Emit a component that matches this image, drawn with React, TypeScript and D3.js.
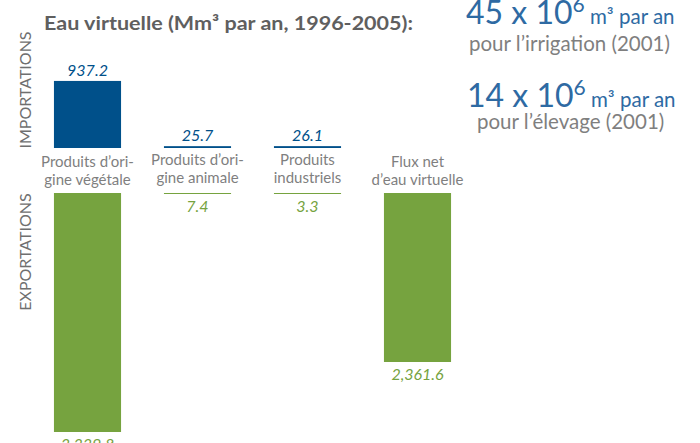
import * as d3 from "d3";
import { useEffect, useRef } from "react";

const categories = ["vegetal", "animal", "industriel", "net"];
const labelLines = [
    ["Produits d’ori-", "gine végétale"],
    ["Produits d’ori-", "gine animale"],
    ["Produits", "industriels"],
    ["Flux net", "d’eau virtuelle"],
];
const imports = [937.2, 25.7, 26.1, null];
const exports = [3339.8, 7.4, 3.3, 2361.6];

const BLUE = "#00508a";
const GREEN = "#76a33f";
const GRAY = "#7f7f7f";
const FONT = "Lato, 'Open Sans', sans-serif";

const App = () => {
    const chartRef = useRef(null);

    useEffect(() => {
        const svg = d3.select(chartRef.current);
        svg.selectAll("*").remove();

        const importBase = 148;
        const exportBase = 193;

        const scaleX = d3.scaleBand()
            .domain(categories)
            .range([32.5, 472.5])
            .paddingInner(0.39)
            .paddingOuter(0.195);

        // une seule échelle pour les deux sens
        const scaleH = d3.scaleLinear().domain([0, 3339.8]).range([0, 239]);
        const fmt = d3.format(",.1f");
        const band = scaleX.bandwidth();

        // titre
        svg.append("text")
            .attr("x", 44).attr("y", 30)
            .attr("font-family", FONT).attr("font-weight", "bold")
            .attr("font-size", 19.5).attr("fill", "#5f5f5f")
            .attr("textLength", 369).attr("lengthAdjust", "spacingAndGlyphs")
            .text("Eau virtuelle (Mm³ par an, 1996-2005):");

        // textes verticaux
        const vLabel = (txt, cy) => {
            svg.append("text")
                .attr("transform", `translate(31, ${cy}) rotate(-90)`)
                .attr("text-anchor", "middle")
                .attr("font-family", FONT).attr("font-size", 16)
                .attr("fill", "#6f6f6f")
                .text(txt);
        };
        vLabel("IMPORTATIONS", 90);
        vLabel("EXPORTATIONS", 252);

        // importations
        categories.forEach((c, i) => {
            const v = imports[i];
            if (v == null) return;
            const h = Math.max(scaleH(v), 1);
            svg.append("rect")
                .attr("x", scaleX(c)).attr("y", importBase - h)
                .attr("width", band).attr("height", h)
                .attr("fill", BLUE);
            svg.append("text")
                .attr("x", scaleX(c) + band / 2).attr("y", importBase - h - 5)
                .attr("text-anchor", "middle")
                .attr("font-family", FONT).attr("font-style", "italic")
                .attr("font-size", 16).attr("fill", BLUE)
                .text(fmt(v));
        });

        // exportations
        categories.forEach((c, i) => {
            const v = exports[i];
            const h = Math.max(scaleH(v), 1);
            svg.append("rect")
                .attr("x", scaleX(c)).attr("y", exportBase)
                .attr("width", band).attr("height", h)
                .attr("fill", GREEN);
            svg.append("text")
                .attr("x", scaleX(c) + band / 2).attr("y", exportBase + h + 18)
                .attr("text-anchor", "middle")
                .attr("font-family", FONT).attr("font-style", "italic")
                .attr("font-size", 16).attr("fill", GREEN)
                .text(fmt(v));
        });

        // étiquettes des catégories
        categories.forEach((c, i) => {
            const off = i === 1 || i === 2 ? -2 : 0;
            labelLines[i].forEach((line, j) => {
                svg.append("text")
                    .attr("x", scaleX(c) + band / 2).attr("y", 167 + off + j * 18)
                    .attr("text-anchor", "middle")
                    .attr("font-family", FONT).attr("font-size", 15)
                    .attr("fill", GRAY)
                    .text(line);
            });
        });

        // encadré à droite
        const bigNum = (x, y, num) => {
            const t = svg.append("text")
                .attr("x", x).attr("y", y)
                .attr("font-family", FONT).attr("fill", "#2e6aa3");
            t.append("tspan").attr("font-size", 32).text(num + " x 10");
            t.append("tspan").attr("font-size", 21).attr("dy", -12).text("6");
            t.append("tspan").attr("font-size", 20.5).attr("dy", 12).text(" m³ par an");
        };
        bigNum(466, 24, "45");
        bigNum(467, 107, "14");

        svg.append("text")
            .attr("x", 469).attr("y", 51)
            .attr("font-family", FONT).attr("font-size", 20.5).attr("fill", GRAY)
            .text("pour l’irrigation (2001)");
        svg.append("text")
            .attr("x", 477).attr("y", 129)
            .attr("font-family", FONT).attr("font-size", 20.5).attr("fill", GRAY)
            .text("pour l’élevage (2001)");
    }, []);

    return (
        <svg ref={chartRef} width={700} height={443}
            style={{ position: "absolute", left: 0, top: 0, background: "#fff" }}></svg>
    );
};

export default App;
